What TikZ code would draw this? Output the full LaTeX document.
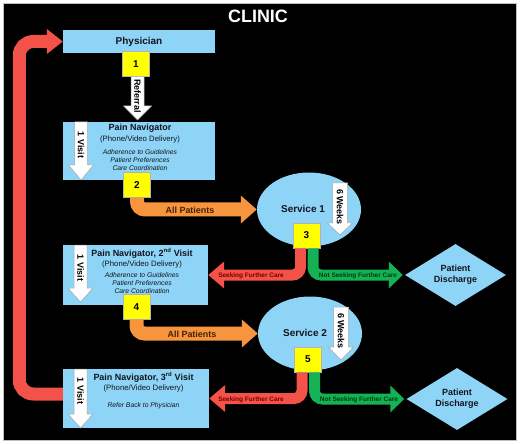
\documentclass[tikz,border=0pt]{standalone}
\usepackage{fontspec}
\setmainfont{Liberation Sans}
\usetikzlibrary{shapes.geometric,arrows.meta}
\definecolor{sky}{RGB}{142,212,246}
\definecolor{corange}{RGB}{247,148,62}
\definecolor{cred}{RGB}{242,82,72}
\definecolor{cgreen}{RGB}{20,178,84}
\definecolor{cyellow}{RGB}{255,255,0}
\definecolor{txtdark}{RGB}{20,20,30}
\definecolor{orangetxt}{RGB}{70,35,5}
\definecolor{redtxt}{RGB}{120,0,0}
\definecolor{greentxt}{RGB}{0,60,20}
\newcommand\whitedown[9]{%
  \filldraw[fill=white, draw=gray!70, line width=0.5bp]
    ({#2-#6/2},#3) -- ({#2+#6/2},#3) -- ({#2+#6/2},#4) -- ({#2+#7/2},#4)
    -- (#2,#5) -- ({#2-#7/2},#4) -- ({#2-#6/2},#4) -- cycle;
  \node[wtext] (#1) at (#2,#8) {#9};}
\begin{document}
\begin{tikzpicture}[x=1bp,y=-1bp,
  box/.style={fill=sky, draw=none, inner sep=0pt, rectangle},
  numbox/.style={fill=cyellow, draw=gray!60, line width=0.5bp, minimum width=27bp, minimum height=25bp, inner sep=0pt, font=\fontsize{10}{12}\selectfont\bfseries, text=black},
  ptitle/.style={font=\fontsize{9}{10}\selectfont\bfseries, text=txtdark, inner sep=0pt},
  psub/.style={font=\fontsize{7.8}{9}\selectfont, text=txtdark, inner sep=0pt},
  pital/.style={font=\fontsize{6.8}{8}\selectfont\itshape, text=txtdark, align=center, inner sep=0pt},
  wtext/.style={rotate=-90, font=\fontsize{9}{10}\selectfont\bfseries, text=black, inner sep=0pt},
  svc/.style={ellipse, fill=sky, draw=none, minimum width=104bp, minimum height=74bp, inner sep=0pt},
  svctext/.style={font=\fontsize{10}{12}\selectfont\bfseries, text=txtdark, inner sep=0pt},
  disc/.style={diamond, fill=sky, draw=none, minimum width=101bp, minimum height=62bp, inner sep=0pt, aspect=1.6},
  disctext/.style={font=\fontsize{9}{11}\selectfont\bfseries, text=txtdark, align=center, inner sep=0pt},
  orangearrow/.style={draw=corange, line width=14bp, rounded corners=8bp, -{Triangle[width=27bp,length=16bp]}},
  redarrow/.style={draw=cred, line width=11bp, rounded corners=8bp, -{Triangle[width=26bp,length=16bp]}},
  greenarrow/.style={draw=cgreen, line width=11bp, rounded corners=8bp, -{Triangle[width=26bp,length=14bp]}},
  bigred/.style={draw=cred, line width=13bp, rounded corners=14bp, -{Triangle[width=24bp,length=16bp]}},
  alltext/.style={font=\fontsize{9}{10}\selectfont\bfseries, text=orangetxt, inner sep=0pt},
  seektext/.style={font=\fontsize{6.5}{7}\selectfont\bfseries, text=redtxt, inner sep=0pt},
  notseektext/.style={font=\fontsize{6.5}{7}\selectfont\bfseries, text=greentxt, inner sep=0pt}
]
\useasboundingbox (0,0) rectangle (520,444);
\fill[white] (0,0) rectangle (520,444);
\fill[black] (3,3) rectangle (516,440);
\draw[gray!50, line width=0.8bp] (3,3) rectangle (516,440);

\node[font=\fontsize{18}{20}\selectfont\bfseries, text=white, inner sep=0pt] (title) at (258,16) {CLINIC};

% boxes
\node[box, minimum width=152bp, minimum height=23bp] (phys) at (139,41.5) {};
\node[box, minimum width=152bp, minimum height=58bp] (pn1) at (139,151) {};
\node[box, minimum width=145bp, minimum height=60bp] (pn2) at (135.5,275) {};
\node[box, minimum width=146bp, minimum height=59bp] (pn3) at (136,398.5) {};

% services and discharges
\node[svc] (s1) at (309,209.5) {};
\node[svc] (s2) at (310,333.5) {};
\node[disc] (d1) at (455.5,275) {};
\node[disc] (d2) at (457,399) {};

% number boxes
\node[numbox] (y1) at (136,64) {1};
\node[numbox] (y2) at (137,185) {2};
\node[numbox] (y3) at (306.5,235.5) {3};
\node[numbox] (y4) at (136.5,307) {4};
\node[numbox] (y5) at (308,359.5) {5};

% connectors
\draw[orangearrow] (y2.south) |- (s1.west);
\draw[orangearrow] (y4.south) |- (s2.west);
\draw[redarrow] ([xshift=-6bp]y3.south) |- (pn2.east);
\draw[greenarrow] ([xshift=6.5bp]y3.south) |- ([xshift=-2bp]d1.west);
\draw[redarrow] ([xshift=-6bp]y5.south) |- (pn3.east);
\draw[greenarrow] ([xshift=6.5bp]y5.south) |- ([xshift=-2bp]d2.west);
\draw[bigred] ([yshift=4.5bp]pn3.west) -| ([xshift=-43.5bp]phys.west) -- (phys.west);

% connector labels
\node[alltext] (al1) at (190,210) {All Patients};
\node[alltext] (al2) at (192,334) {All Patients};
\node[seektext] (sk1) at (251,276) {Seeking Further Care};
\node[notseektext] (ns1) at (358,275.5) {Not Seeking Further Care};
\node[seektext] (sk2) at (251,400) {Seeking Further Care};
\node[notseektext] (ns2) at (359,399.5) {Not Seeking Further Care};

% white block arrows
\whitedown{ref}{137.5}{76.5}{106}{120}{13}{28}{96}{Referral}
\whitedown{v1}{81}{122}{165}{180}{13}{25}{145}{1 Visit}
\whitedown{v2}{80.5}{245}{288}{302}{13}{25}{268}{1 Visit}
\whitedown{v3}{80.5}{369}{414}{428}{13}{25}{391}{1 Visit}
\whitedown{w1}{340}{183}{223}{235}{15}{25}{207}{6 Weeks}
\whitedown{w2}{341}{307}{347}{360}{15}{25}{331}{6 Weeks}

% texts
\node[font=\fontsize{10}{12}\selectfont\bfseries, text=txtdark, inner sep=0pt] (physt) at (139,42) {Physician};

\node[ptitle] (pn1a) at (140,128.5) {Pain Navigator};
\node[psub] (pn1b) at (140,139) {(Phone/Video Delivery)};
\node[pital] (pn1c) at (140,160) {Adherence to Guidelines\\Patient Preferences\\Care Coordination};

\node[ptitle] (pn2a) at (142,253.5) {Pain Navigator, 2\textsuperscript{nd} Visit};
\node[psub] (pn2b) at (142,264) {(Phone/Video Delivery)};
\node[pital] (pn2c) at (142,283) {Adherence to Guidelines\\Patient Preferences\\Care Coordination};

\node[ptitle] (pn3a) at (143.5,377.5) {Pain Navigator, 3\textsuperscript{rd} Visit};
\node[psub] (pn3b) at (143.5,388) {(Phone/Video Delivery)};
\node[pital] (pn3c) at (143.5,406) {Refer Back to Physician};

\node[svctext] (s1t) at (303,208.5) {Service 1};
\node[svctext] (s2t) at (305,332.5) {Service 2};
\node[disctext] (d1t) at (455.5,275) {Patient\\Discharge};
\node[disctext] (d2t) at (457,399) {Patient\\Discharge};
\end{tikzpicture}
\end{document}
